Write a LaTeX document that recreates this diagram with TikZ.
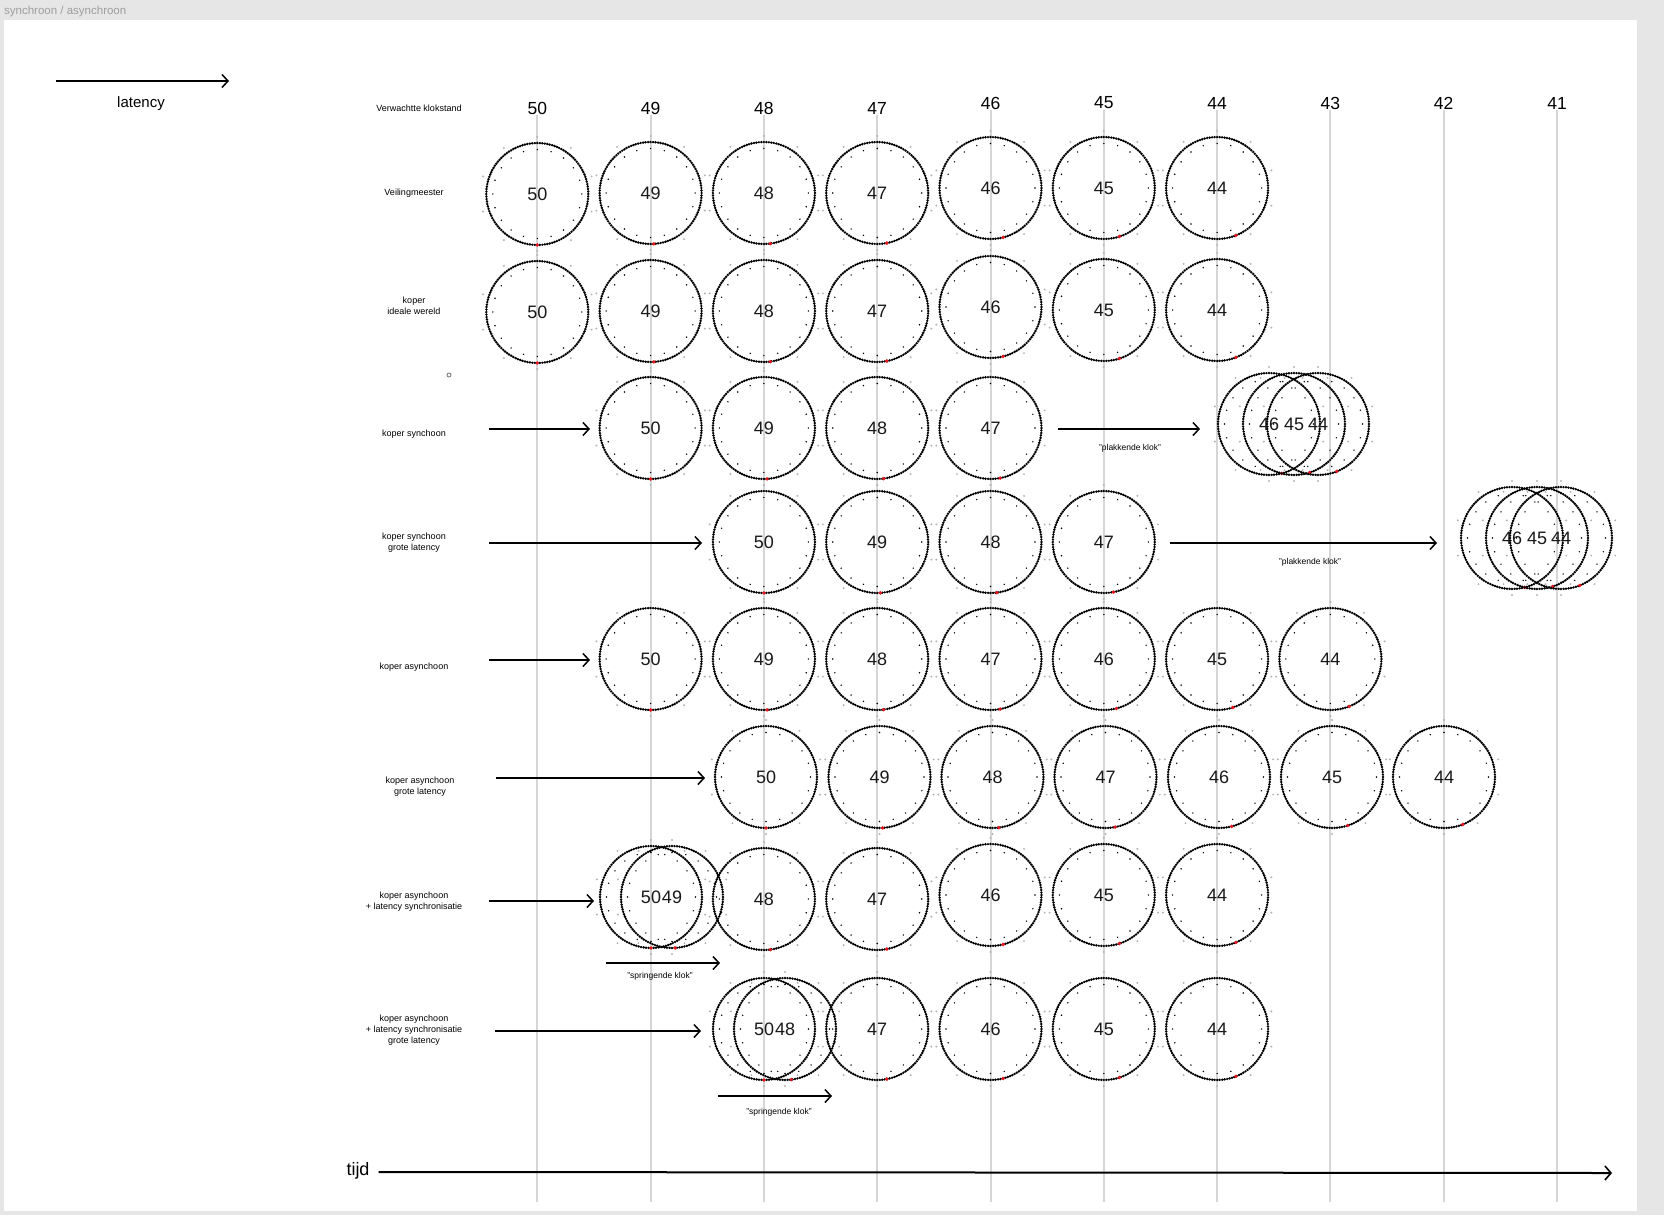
\documentclass[tikz,border=0pt]{standalone}
\usepackage{fontspec}
\setmainfont{Liberation Sans}
\usetikzlibrary{arrows.meta}
\definecolor{bggray}{HTML}{E6E6E6}
\definecolor{vline}{HTML}{D6D6D6}
\definecolor{titlegray}{HTML}{9E9E9E}
\definecolor{tickgray}{HTML}{B4B4B4}
\definecolor{klokred}{HTML}{E8141B}
\tikzset{
  klokring/.style={circle, minimum size=102pt, inner sep=0pt, outer sep=0pt,
    draw=black, line width=2.7pt, dash pattern=on 0pt off 2.5034pt, line cap=round,
    font=\fontsize{18}{20}\selectfont, text=black!90},
  kop/.style={font=\fontsize{17.5}{20}\selectfont, inner sep=1pt},
  rowlabel/.style={align=center, font=\fontsize{9}{11}\selectfont, inner sep=0pt},
  small/.style={font=\fontsize{8.5}{10}\selectfont, inner sep=0pt},
  pijl/.style={line width=1.5pt, -{Straight Barb[length=6pt,width=13pt,line width=1.5pt]}},
  timeline/.style={vline, line width=2pt},
}
\newcommand\klok[4]{%
  \node[klokring] (#1) at (#2,#3) {#4};
  \foreach \k in {0,5,...,95}{\fill[black] (#1.center) ++({3.6*\k-90}:44.5) circle (0.8);}
  \foreach \k in {0,10,...,90}{\fill[tickgray] (#1.center) ++({3.6*\k-90}:57) circle (1.1);}
  \fill[klokred] (#1.center) ++({3.6*#4-90}:51) circle (1.9);
}
\begin{document}
\begin{tikzpicture}[x=1pt,y=-1pt]
% background
\fill[bggray] (0,0) rectangle (1664,1215);
\fill[white] (4,20) rectangle (1637,1211);
\useasboundingbox (0,0) rectangle (1664,1215);
\node[anchor=west, text=titlegray, font=\fontsize{11.5}{12}\selectfont, inner sep=0pt] (title) at (4,12) {synchroon / asynchroon};

% legend
\coordinate (lat1) at (56,81);
\coordinate (lat2) at (229,81);
\draw[pijl] (lat1) -- (lat2);
\node[font=\fontsize{15}{17}\selectfont, inner sep=0pt] (latency) at (141,104) {latency};

% header
\node[rowlabel] (lh) at (419,108) {Verwachtte klokstand};
\node[kop] (h0) at (537.3,108) {50};
\node[kop] (h1) at (650.6,108) {49};
\node[kop] (h2) at (763.9,108) {48};
\node[kop] (h3) at (877.2,108) {47};
\node[kop] (h4) at (990.5,103) {46};
\node[kop] (h5) at (1103.8,103) {45};
\node[kop] (h6) at (1217.1,103) {44};
\node[kop] (h7) at (1330.4,103) {43};
\node[kop] (h8) at (1443.7,103) {42};
\node[kop] (h9) at (1557.0,103) {41};
% vertical time lines
\foreach \i/\x in {0/537.3,1/650.6,2/763.9,3/877.2,4/990.5,5/1103.8,6/1217.1,7/1330.4,8/1443.7,9/1557.0}{
  \coordinate (b\i) at (\x,1202);
  \draw[timeline] (h\i.south) -- (b\i);
}

% row labels
\node[rowlabel] (l1) at (414,193) {Veilingmeester};
\node[rowlabel] (l2) at (414,306) {koper\\ideale wereld};
\node[rowlabel] (l3) at (414,434) {koper synchoon};
\node[rowlabel] (l4) at (414,543) {koper synchoon\\grote latency};
\node[rowlabel] (l5) at (414,667) {koper asynchoon};
\node[rowlabel] (l6) at (420,787) {koper asynchoon\\grote latency};
\node[rowlabel] (l7) at (414,902) {koper asynchoon\\+ latency synchronisatie};
\node[rowlabel] (l8) at (414,1030) {koper asynchoon\\+ latency synchronisatie\\grote latency};
\draw[black!70, line width=0.6pt] (449,375) circle (2);

% row 1: Veilingmeester
\klok{a50}{537.3}{194}{50}
\klok{a49}{650.6}{193}{49}
\klok{a48}{763.9}{193}{48}
\klok{a47}{877.2}{193}{47}
\klok{a46}{990.5}{188}{46}
\klok{a45}{1103.8}{188}{45}
\klok{a44}{1217.1}{188}{44}

% row 2: ideale wereld
\klok{b50}{537.3}{312}{50}
\klok{b49}{650.6}{311}{49}
\klok{b48}{763.9}{311}{48}
\klok{b47}{877.2}{311}{47}
\klok{b46}{990.5}{307}{46}
\klok{b45}{1103.8}{310}{45}
\klok{b44}{1217.1}{310}{44}

% row 3: synchoon
\klok{c50}{650.6}{428}{50}
\klok{c49}{763.9}{428}{49}
\klok{c48}{877.2}{428}{48}
\klok{c47}{990.5}{428}{47}
\klok{c46}{1269}{424}{46}
\klok{c45}{1294}{424}{45}
\klok{c44}{1318}{424}{44}
\coordinate (p3a) at (489,429); \coordinate (p3b) at (590,429);
\draw[pijl] (p3a) -- (p3b);
\coordinate (q3a) at (1058,429); \coordinate (q3b) at (1200,429);
\draw[pijl] (q3a) -- (q3b);
\node[small] (t3) at (1130,448) {"plakkende klok"};

% row 4: synchoon grote latency
\klok{d50}{763.9}{542}{50}
\klok{d49}{877.2}{542}{49}
\klok{d48}{990.5}{542}{48}
\klok{d47}{1103.8}{542}{47}
\klok{d46}{1512}{538}{46}
\klok{d45}{1537}{538}{45}
\klok{d44}{1561}{538}{44}
\coordinate (p4a) at (489,543); \coordinate (p4b) at (702,543);
\draw[pijl] (p4a) -- (p4b);
\coordinate (q4a) at (1170,543); \coordinate (q4b) at (1437,543);
\draw[pijl] (q4a) -- (q4b);
\node[small] (t4) at (1310,562) {"plakkende klok"};

% row 5: asynchoon
\klok{e50}{650.6}{659}{50}
\klok{e49}{763.9}{659}{49}
\klok{e48}{877.2}{659}{48}
\klok{e47}{990.5}{659}{47}
\klok{e46}{1103.8}{659}{46}
\klok{e45}{1217.1}{659}{45}
\klok{e44}{1330.4}{659}{44}
\coordinate (p5a) at (489,660); \coordinate (p5b) at (590,660);
\draw[pijl] (p5a) -- (p5b);

% row 6: asynchoon grote latency
\klok{f50}{766}{777}{50}
\klok{f49}{879.5}{777}{49}
\klok{f48}{992.5}{777}{48}
\klok{f47}{1105.5}{777}{47}
\klok{f46}{1219}{777}{46}
\klok{f45}{1332}{777}{45}
\klok{f44}{1444}{777}{44}
\coordinate (p6a) at (496,778); \coordinate (p6b) at (705,778);
\draw[pijl] (p6a) -- (p6b);

% row 7: asynchoon + latency synchronisatie
\klok{g50}{651}{897}{50}
\klok{g49}{672}{897}{49}
\klok{g48}{763.9}{899}{48}
\klok{g47}{877.2}{899}{47}
\klok{g46}{990.5}{895}{46}
\klok{g45}{1103.8}{895}{45}
\klok{g44}{1217.1}{895}{44}
\coordinate (p7a) at (489,901); \coordinate (p7b) at (594,901);
\draw[pijl] (p7a) -- (p7b);
\coordinate (q7a) at (606,963); \coordinate (q7b) at (720,963);
\draw[pijl] (q7a) -- (q7b);
\node[small] (t7) at (660,976) {"springende klok"};

% row 8: asynchoon + latency synchronisatie grote latency
\klok{h50}{764}{1029}{50}
\klok{h48}{785}{1029}{48}
\klok{h47}{877.2}{1029}{47}
\klok{h46}{990.5}{1029}{46}
\klok{h45}{1103.8}{1029}{45}
\klok{h44}{1217.1}{1029}{44}
\coordinate (p8a) at (495,1031); \coordinate (p8b) at (701,1031);
\draw[pijl] (p8a) -- (p8b);
\coordinate (q8a) at (718,1096); \coordinate (q8b) at (832,1096);
\draw[pijl] (q8a) -- (q8b);
\node[small] (t8) at (779,1112) {"springende klok"};

% time axis
\node[font=\fontsize{18}{20}\selectfont, inner sep=0pt] (tijd) at (358,1171) {tijd};
\coordinate (tend) at (1612,1173);
\draw[line width=2pt, -{Straight Barb[length=6pt,width=14pt,line width=1.6pt]}] (tijd.east) ++(9,1) -- (tend);
\end{tikzpicture}
\end{document}
